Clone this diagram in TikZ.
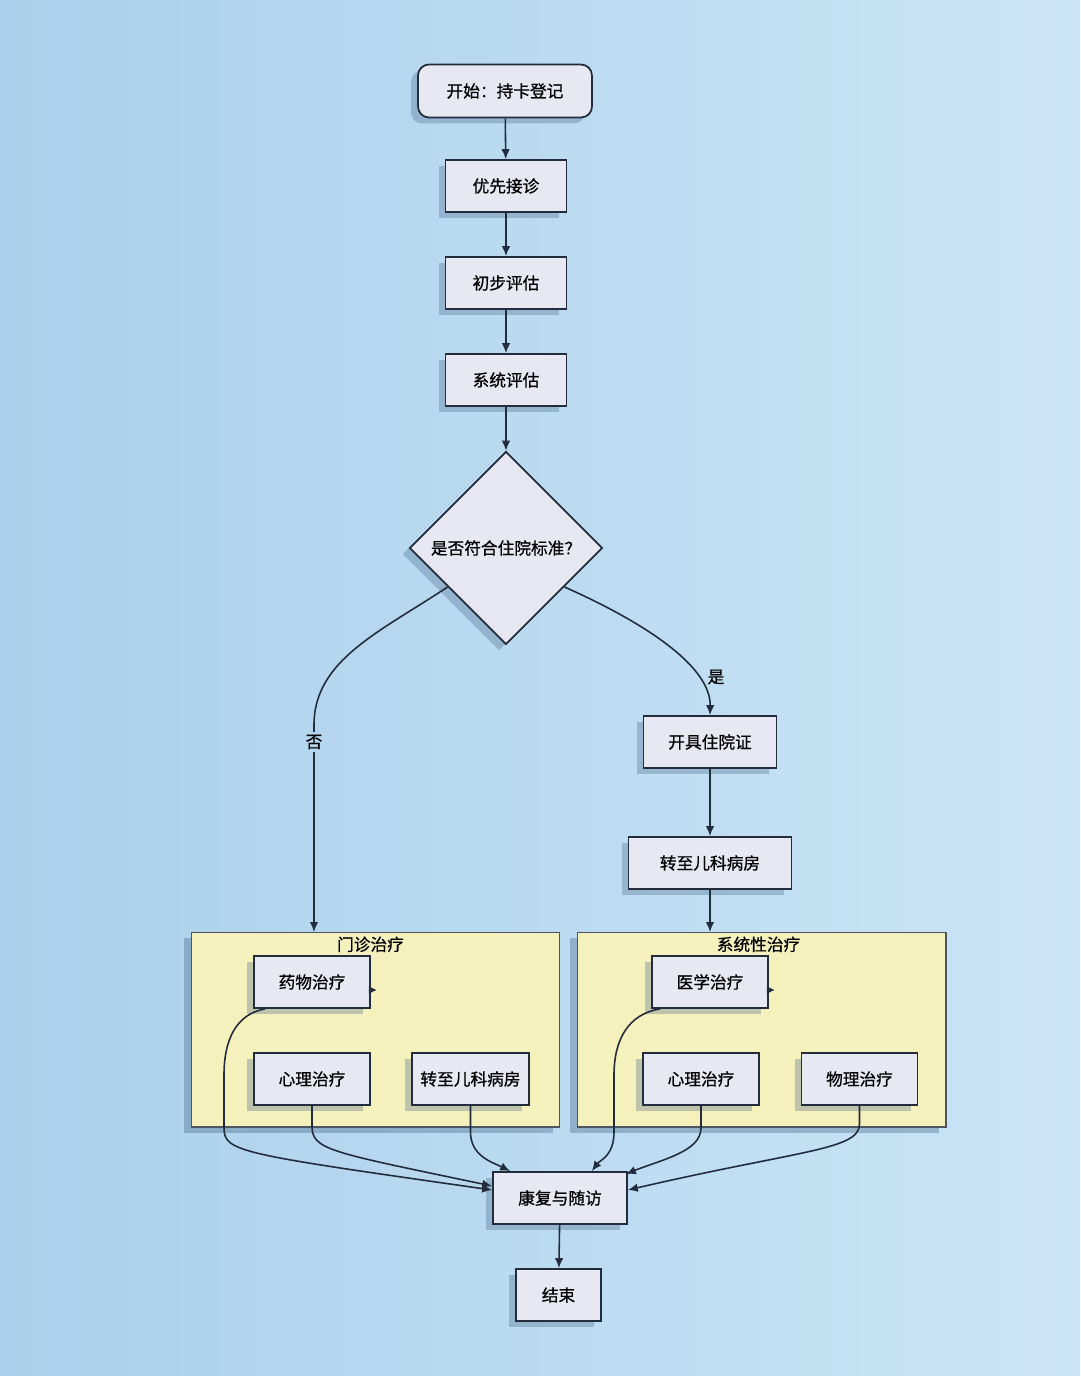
\documentclass[tikz,border=0pt]{standalone}
\usepackage{xcolor}
\usepackage{fontspec}
\setmainfont{Noto Sans CJK SC}
\newfontfamily\zhfont{Noto Sans CJK SC}[FakeBold=0.7]
\usepackage{tikz}
\usetikzlibrary{arrows.meta,positioning,shapes.geometric,shadows,calc}
\definecolor{bgleft}{HTML}{ABD0EB}
\definecolor{bgright}{HTML}{CBE5F6}
\definecolor{boxfill}{HTML}{E8E8F3}
\definecolor{boxline}{HTML}{232C3C}
\definecolor{groupfill}{HTML}{F4F1BD}
\definecolor{shadowc}{HTML}{3E5E82}
\newcommand{\zh}{\zhfont\fontsize{9.5}{11}\selectfont}
\tikzset{
    box/.style={
        draw=boxline,
        line width=1pt,
        align=center,
        minimum height=10.4mm,
        minimum width=24.2mm,
        fill=boxfill,
        font=\zh,
        drop shadow={shadow xshift=-1.4mm, shadow yshift=-1.2mm, fill=shadowc, opacity=.3}
    },
    startbox/.style={
        box,
        rounded corners=2.2mm,
        minimum width=34.8mm,
        minimum height=10.6mm
    },
    group/.style={
        draw=boxline!80,
        line width=.6pt,
        fill=groupfill,
        minimum width=73.8mm,
        minimum height=39mm,
        drop shadow={shadow xshift=-1.4mm, shadow yshift=-1.2mm, fill=shadowc, opacity=.35}
    },
    grouptitle/.style={font=\zh, inner sep=1pt, anchor=north},
    decision/.style={
        draw=boxline,
        line width=1pt,
        diamond,
        aspect=1,
        minimum size=38.6mm,
        inner sep=0pt,
        align=center,
        fill=boxfill,
        font=\zh,
        drop shadow={shadow xshift=-1.4mm, shadow yshift=-1.2mm, fill=shadowc, opacity=.3}
    },
    flow/.style={-{Latex[length=2mm,width=1.7mm]}, line width=.9pt, draw=boxline},
    tick/.style={-{Latex[length=1.6mm,width=1.7mm]}, line width=.9pt, draw=boxline},
    branch/.style={font=\zh, inner sep=1.5pt}
}

\begin{document}
\begin{tikzpicture}[x=0.02cm, y=-0.02cm]
        \shade[left color=bgleft, right color=bgright] (0,0) rectangle (1080,1376);
        \useasboundingbox (0,0) rectangle (1080,1376);

        \node[startbox] (start) at (505,91) {开始：持卡登记};
        \node[box] (prio) at (506,186) {优先接诊};
        \node[box] (first) at (506,283) {初步评估};
        \node[box] (sys) at (506,380) {系统评估};
        \node[decision] (dec) at (506,548) {是否符合住院标准？};
        \node[box, minimum width=26.6mm] (permit) at (710,742) {开具住院证};
        \node[box, minimum width=32.6mm] (ward) at (710,863) {转至儿科病房};

        \node[group] (outpat) at (375.5,1029.5) {};
        \node[grouptitle] at ($(outpat.north)+(-5,3)$) {门诊治疗};
        \node[group] (systr) at (761.5,1029.5) {};
        \node[grouptitle] at ($(systr.north)+(-3,3)$) {系统性治疗};

        \node[box, minimum width=23.2mm] (drug) at (312,982) {药物治疗};
        \node[box, minimum width=23.2mm] (psyA) at (312,1079) {心理治疗};
        \node[box, minimum width=23.4mm] (wardA) at (470.5,1079) {转至儿科病房};
        \node[box, minimum width=23.2mm] (med) at (710,982) {医学治疗};
        \node[box, minimum width=23.2mm] (psyB) at (701,1079) {心理治疗};
        \node[box, minimum width=23.2mm] (phys) at (859.5,1079) {物理治疗};
        \node[box, minimum width=26.8mm] (rehab) at (560,1198) {康复与随访};
        \node[box, minimum width=17mm] (finish) at (558.5,1295) {结束};

        \coordinate (noin) at (314,932);
        \coordinate (yesin) at (710,932);

        \draw[flow] (start) -- (prio);
        \draw[flow] (prio) -- (first);
        \draw[flow] (first) -- (sys);
        \draw[flow] (sys) -- (dec);
        \draw[flow] ($(dec.west)!0.4!(dec.south)$) .. controls (380,632) and (314,660) .. (314,725) -- (noin);
        \node[branch, fill=bgleft!72!bgright] (no) at (314,742) {否};
        \draw[flow] ($(dec.east)!0.4!(dec.south)$) .. controls (650,625) and (711,668) .. (permit.north);
        \node[branch] (yes) at (716,677) {是};
        \draw[flow] (permit) -- (ward);
        \draw[flow] (ward) -- (yesin);

        \draw[tick] ($(drug.east)+(-1,8)$) -- ($(drug.east)+(6,8)$);
        \draw[tick] ($(med.east)+(-1,8)$) -- ($(med.east)+(6,8)$);

        \draw[flow] ($(drug.south west)+(12,0)$) .. controls (236,1014) and (224,1040) .. (224,1075) -- (224,1128)
            .. controls (224,1152) and (240,1154) .. ($(rehab.west)+(0,-8)$);
        \draw[flow] (psyA.south) -- (312,1126) .. controls (312,1150) and (330,1152) .. ($(rehab.west)+(0,-12)$);
        \draw[flow] (wardA.south) -- (470.5,1132) .. controls (470.5,1156) and (492,1162) .. ($(rehab.north west)+(18,0)$);
        \draw[flow] ($(med.south west)+(9,0)$) .. controls (628,1014) and (614,1040) .. (614,1075) -- (614,1132)
            .. controls (614,1156) and (600,1160) .. ($(rehab.north east)+(-36,0)$);
        \draw[flow] (psyB.south) -- (701,1128) .. controls (701,1152) and (660,1160) .. ($(rehab.north east)+(-2,3)$);
        \draw[flow] (phys.south) -- (859.5,1124) .. controls (859.5,1150) and (800,1150) .. ($(rehab.east)+(0,-8)$);
        \draw[flow] (rehab) -- (finish);
    \end{tikzpicture}
\end{document}
